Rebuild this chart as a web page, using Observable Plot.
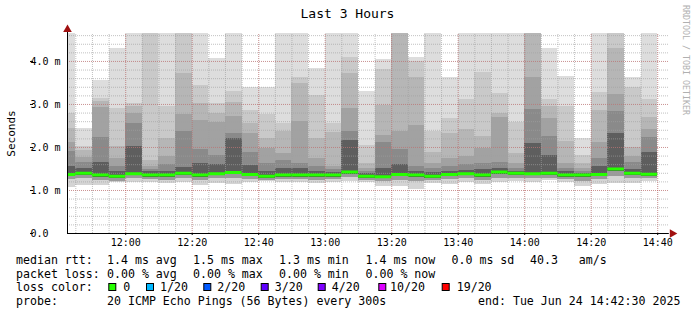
<!DOCTYPE html>
<html><head><meta charset="utf-8">
<script src="https://cdn.jsdelivr.net/npm/d3@7"></script>
<script src="https://cdn.jsdelivr.net/npm/@observablehq/plot@0.6"></script>
<style>html,body{margin:0;padding:0;background:#fff;} svg{display:block;}</style>
</head><body><div id="chart"></div>
<script>
// ---- data (ms) ----
const times = ["11:40","11:45","11:50","11:55","12:00","12:05","12:10","12:15","12:20","12:25","12:30","12:35",
  "12:40","12:45","12:50","12:55","13:00","13:05","13:10","13:15","13:20","13:25","13:30","13:35",
  "13:40","13:45","13:50","13:55","14:00","14:05","14:10","14:15","14:20","14:25","14:30","14:35"];
const median = [1.37,1.40,1.36,1.33,1.39,1.36,1.36,1.40,1.36,1.39,1.42,1.37,1.33,1.36,1.36,1.36,1.36,1.43,
  1.33,1.32,1.37,1.36,1.33,1.37,1.39,1.36,1.43,1.40,1.39,1.40,1.36,1.36,1.37,1.50,1.40,1.38];
const maxPing = [4.8,2.43,3.56,4.29,4.8,4.8,4.8,4.8,4.8,4.08,4.8,3.40,3.40,4.8,4.8,3.83,4.8,4.8,
  3.31,4.05,4.8,4.10,4.8,3.62,4.8,4.8,4.8,4.8,4.8,4.30,3.65,2.20,4.8,4.8,3.62,4.8];
const up1 = [2.78,2.02,3.14,2.90,3.02,4.75,2.95,4.75,3.44,3.02,3.31,2.86,2.77,2.55,3.62,3.22,2.55,4.10,
  2.04,3.81,4.75,4.00,2.36,2.67,3.12,3.75,3.25,2.57,4.75,3.12,2.96,1.81,3.28,4.75,3.39,3.12];
const up2 = [2.43,1.93,3.06,2.03,2.95,1.70,2.20,3.72,3.02,2.80,3.05,2.56,2.22,2.38,3.48,2.20,2.34,3.72,
  1.62,2.98,4.70,3.62,1.89,2.32,2.42,2.26,2.80,1.85,4.70,2.96,2.13,1.62,2.85,4.30,2.01,2.69];
const up3 = [2.12,1.76,2.93,1.74,2.80,1.55,1.78,2.77,2.63,2.59,2.71,2.32,1.98,1.86,2.61,1.74,1.55,2.90,
  1.52,2.28,2.36,2.50,1.62,1.74,1.78,1.97,2.70,1.62,3.62,2.67,1.62,1.52,2.12,3.23,1.80,2.41];
const up4 = [1.91,1.66,2.24,1.55,2.55,1.48,1.60,2.36,1.95,1.81,2.33,1.89,1.62,1.70,1.62,1.55,1.48,2.37,
  1.45,2.12,1.96,1.55,1.50,1.55,1.60,1.62,1.66,1.52,2.88,2.25,1.52,1.45,1.75,2.84,1.65,2.24];
const up5 = [1.55,1.50,1.64,1.45,2.03,1.43,1.45,1.54,1.62,1.60,2.20,1.58,1.45,1.50,1.50,1.45,1.42,2.16,
  1.39,1.50,1.60,1.45,1.42,1.45,1.47,1.48,1.52,1.45,2.10,1.81,1.43,1.40,1.55,2.33,1.48,1.88];
const lowDark = [1.32,1.35,1.31,1.28,1.34,1.31,1.31,1.35,1.31,1.34,1.37,1.32,1.28,1.31,1.31,1.31,1.31,1.38,
  1.28,1.27,1.32,1.31,1.28,1.32,1.34,1.31,1.38,1.35,1.34,1.35,1.31,1.31,1.32,1.43,1.35,1.33];
const lowMid = [1.25,1.28,1.24,1.22,1.27,1.25,1.24,1.28,1.23,1.27,1.29,1.26,1.24,1.25,1.25,1.24,1.25,1.30,
  1.24,1.20,1.23,1.20,1.24,1.25,1.27,1.24,1.29,1.29,1.27,1.29,1.25,1.22,1.25,1.33,1.28,1.28];
const minPing = [1.06,1.12,1.12,1.18,1.19,1.19,1.16,1.18,1.12,1.17,1.13,1.19,1.22,1.19,1.19,1.17,1.19,1.22,
  1.19,1.09,1.09,1.02,1.16,1.14,1.19,1.14,1.19,1.22,1.19,1.24,1.19,1.10,1.14,1.17,1.17,1.22];

const yTicks = [0, 1, 2, 3, 4];
const xTickLabels = ["12:00","12:20","12:40","13:00","13:20","13:40","14:00","14:20","14:40"];
const lossLabels = ["0","1/20","2/20","3/20","4/20","10/20","19/20"];
const lossColors = ["#26ff00","#00b8ff","#0059ff","#5e00ff","#7e00ff","#dd00ff","#ff0000"];
const statRows = [
  ["median rtt:", "1.4 ms avg", "1.5 ms max", "1.3 ms min", "1.4 ms now", "0.0 ms sd", "40.3   am/s"],
  ["packet loss:", "0.00 % avg", "0.00 % max", "0.00 % min", "0.00 % now"]
];
const probeText = "20 ICMP Echo Pings (56 Bytes) every 300s";
const endText = "end: Tue Jun 24 14:42:30 2025";

// ---- build ----
const T = s => { const [h, m] = s.split(":").map(Number); return new Date(Date.UTC(2025, 5, 24, h, m)); };
const STEP = 300000;
const rows = times.map((s, i) => ({
  start: T(s), end: new Date(+T(s) + STEP),
  median: median[i], maxPing: maxPing[i], up1: up1[i], up2: up2[i], up3: up3[i], up4: up4[i], up5: up5[i],
  lowDark: lowDark[i], lowMid: lowMid[i], minPing: minPing[i]
}));
const t0 = new Date(Date.UTC(2025, 5, 24, 11, 42, 30));
const t1 = new Date(Date.UTC(2025, 5, 24, 14, 42, 30));
const tGridEnd = new Date(+t1 + 60000);
const yTop = 4.65;

const bands = [
  ["minPing", "lowMid", "#d4d4d4"],
  ["lowMid", "lowDark", "#9a9a9a"],
  ["lowDark", "median", "#484848"],
  ["median", "up5", "#5e5e5e"],
  ["up5", "up4", "#8a8a8a"],
  ["up4", "up3", "#a2a2a2"],
  ["up3", "up2", "#b6b6b6"],
  ["up2", "up1", "#c9c9c9"],
  ["up1", "maxPing", "#dddddd"]
];

const minorY = d3.range(1, 24).map(k => k * 0.2).filter(v => v < yTop);
const minorX = d3.utcMinute.every(5).range(new Date(+t0 + 1), t1);
const majorX = xTickLabels.map(T);

const font = "DejaVu Sans Mono";
const chart = Plot.plot({
  width: 697, height: 315,
  marginLeft: 67, marginRight: 31.5, marginTop: 33, marginBottom: 82,
  x: {type: "utc", domain: [t0, t1], axis: null},
  y: {domain: [0, yTop], axis: null},
  style: {fontFamily: font, background: "white", color: "black", overflow: "visible"},
  marks: [
    ...bands.map(([lo, hi, c]) => Plot.rect(rows, {
      x1: "start", x2: "end", y1: lo, y2: hi, fill: c, clip: true, shapeRendering: "crispEdges"
    })),
    Plot.ruleY(minorY, {x1: () => t0, x2: () => tGridEnd, stroke: "#a0a0a0", strokeOpacity: 0.65, strokeDasharray: "1,1"}),
    Plot.ruleX(minorX, {y1: 0, y2: yTop, stroke: "#a0a0a0", strokeOpacity: 0.65, strokeDasharray: "1,1"}),
    Plot.ruleY([1, 2, 3, 4], {x1: () => t0, x2: () => tGridEnd, stroke: "#e04040", strokeOpacity: 0.35, strokeDasharray: "1,1"}),
    Plot.ruleX(majorX, {y1: 0, y2: yTop, stroke: "#e04040", strokeOpacity: 0.35, strokeDasharray: "1,1"}),
    Plot.ruleY(rows, {x1: "start", x2: "end", y: "median", stroke: lossColors[0], strokeWidth: 3, clip: true}),
    // axes
    Plot.ruleY([0], {x1: () => t0, x2: () => tGridEnd, stroke: "black"}),
    Plot.ruleX([t0], {y1: 0, y2: 4.72, stroke: "black"}),
    Plot.dot([t0], {x: d => d, y: () => 4.72, symbol: "triangle", r: 3.2, fill: "#a01010", stroke: null, dy: -1}),
    Plot.dot([tGridEnd], {x: d => d, y: () => 0, symbol: "triangle", r: 3.2, fill: "#a01010", stroke: null, rotate: 90, dx: 3}),
    Plot.axisY({ticks: yTicks, tickSize: 3, tickPadding: 0, textAnchor: "start", dx: -34, fontSize: 10,
      tickFormat: d => d === 0 ? "0.0" : d.toFixed(1) + " m", label: null}),
    Plot.axisX({ticks: majorX, tickSize: 2, tickPadding: 3, fontSize: 10,
      tickFormat: d3.utcFormat("%H:%M"), label: null})
  ]
});
document.getElementById("chart").appendChild(chart);

// ---- texts around the plot ----
const svg = d3.select(chart);
svg.append("text").attr("x", 347.5).attr("y", 18).attr("text-anchor", "middle")
  .attr("font-family", font).attr("font-size", 13).attr("fill", "black").text("Last 3 Hours");
svg.append("text").attr("transform", "translate(15,133.5) rotate(-90)").attr("text-anchor", "middle")
  .attr("font-family", font).attr("font-size", 11).attr("fill", "black").text("Seconds");
svg.append("text").attr("transform", "translate(683,5) rotate(90)").attr("text-anchor", "start")
  .attr("font-family", font).attr("font-size", 8.3).attr("fill", "#b0b0b0").text("RRDTOOL / TOBI OETIKER");

const cols = [16, 107, 193, 279, 365.5, 451.5, 530];
const leg = svg.append("g").attr("font-family", font).attr("font-size", 11.6).attr("fill", "black")
  .attr("text-anchor", "start").style("white-space", "pre");
statRows.forEach((r, ri) => {
  r.forEach((s, ci) => leg.append("text").attr("x", cols[ci]).attr("y", 264 + ri * 13.5)
    .attr("xml:space", "preserve").text(s));
});
leg.append("text").attr("x", 16).attr("y", 291).text("loss color:");
const boxX = [108.3, 146, 203.3, 260.7, 317.7, 378.3, 441.7];
const labX = [123.3, 160, 217.3, 274.7, 331.7, 390, 456.7];
lossLabels.forEach((l, i) => {
  leg.append("rect").attr("x", boxX[i] + 0.5).attr("y", 283.5).attr("width", 7).attr("height", 7)
    .attr("fill", lossColors[i]).attr("stroke", "black").attr("stroke-width", 1);
  leg.append("text").attr("x", labX[i]).attr("y", 291).text(l);
});
leg.append("text").attr("x", 16).attr("y", 304.5).text("probe:");
leg.append("text").attr("x", 107).attr("y", 304.5).text(probeText);
leg.append("text").attr("x", 478).attr("y", 304.5).text(endText);
</script>
</body></html>
